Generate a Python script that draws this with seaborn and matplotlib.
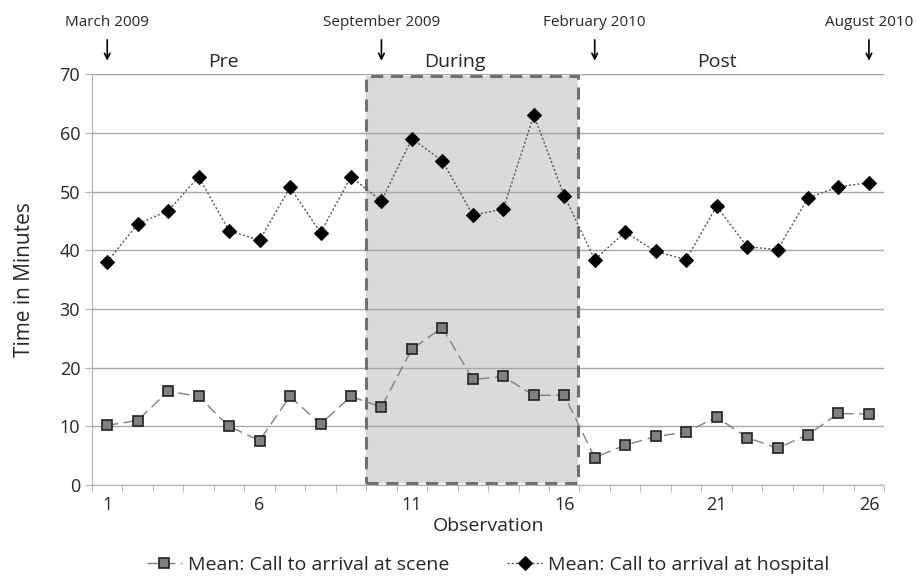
import numpy as np
import pandas as pd
import matplotlib
matplotlib.use('Agg')
import matplotlib.pyplot as plt
import seaborn as sns
from matplotlib.patches import Rectangle

# --- Data ---
observation = list(range(1, 27))
scene = [10.2, 11.0, 16.0, 15.1, 10.0, 7.6, 15.1, 10.4, 15.1, 13.3,
         23.2, 26.8, 18.0, 18.5, 15.3, 15.3, 4.7, 6.8, 8.3, 9.0,
         11.6, 8.1, 6.3, 8.6, 12.2, 12.1]
hospital = [38.0, 44.5, 46.7, 52.5, 43.3, 41.7, 50.7, 43.0, 52.5, 48.4,
            59.0, 55.2, 46.0, 47.0, 63.0, 49.3, 38.4, 43.1, 39.8, 38.4,
            47.5, 40.6, 40.1, 48.9, 50.8, 51.5]
date_labels = ['March 2009', 'September 2009', 'February 2010', 'August 2010']
date_obs = [1, 10, 17, 26]
phase_labels = ['Pre', 'During', 'Post']
phase_obs = [4.8, 12.4, 21.0]
during_start, during_end = 9.5, 16.45

df = pd.DataFrame({'Observation': observation, 'scene': scene, 'hospital': hospital})

# --- Style ---
sns.set_style('white')
plt.rcParams['font.family'] = ['Open Sans', 'DejaVu Sans']

fig = plt.figure(figsize=(9.19, 5.81), dpi=100)
ax = fig.add_axes([0.1001, 0.165, 0.862, 0.7075])

# shaded "During" window (grid stays visible through it)
ax.add_patch(Rectangle((during_start, 0.3), during_end - during_start, 69.4,
                       facecolor='#d9d9d9', edgecolor='none', zorder=0.2))
ax.add_patch(Rectangle((during_start, 0.3), during_end - during_start, 69.4,
                       facecolor='none', edgecolor='#707070', lw=2.2,
                       ls=(0, (4, 2.5)), zorder=2))

sns.lineplot(data=df, x='Observation', y='scene', ax=ax, color='#808080',
             lw=1, linestyle=(0, (8, 4)), marker='s', markersize=7,
             markerfacecolor='#808080', markeredgecolor='#222222',
             markeredgewidth=1.2, label='Mean: Call to arrival at scene', zorder=3)
sns.lineplot(data=df, x='Observation', y='hospital', ax=ax, color='#555555',
             lw=1, linestyle=(0, (1.5, 1.5)), marker='D', markersize=7.5,
             markerfacecolor='black', markeredgecolor='black',
             label='Mean: Call to arrival at hospital', zorder=3)

ax.set_xlim(0.5, 26.5)
ax.set_ylim(0, 70)
ax.set_yticks(range(0, 71, 10))
ax.set_xticks([1, 6, 11, 16, 21, 26])
ax.set_xticks(np.arange(0.5, 26.6, 1), minor=True)
ax.tick_params(axis='x', which='minor', length=5, color='#b0b0b0', direction='out', bottom=True)
ax.tick_params(axis='x', which='major', length=0, labelsize=13, pad=8)
ax.tick_params(axis='y', length=5, color='#b0b0b0', labelsize=13, direction='out', left=True)
ax.yaxis.grid(True, color='#a6a6a6', lw=1, zorder=0.5)
ax.set_axisbelow(True)
for side in ['top', 'right']:
    ax.spines[side].set_visible(False)
for side in ['left', 'bottom']:
    ax.spines[side].set_color('#b0b0b0')
ax.set_xlabel('Observation', fontsize=14, labelpad=2)
ax.set_ylabel('Time in Minutes', fontsize=15, labelpad=18)

# date annotations with arrows
for lab, xo in zip(date_labels, date_obs):
    ax.annotate('', xy=(xo, 71.8), xytext=(xo, 76.3),
                arrowprops=dict(arrowstyle='->', color='black', lw=1.2), annotation_clip=False)
    ax.text(xo, 77.5, lab, ha='center', va='bottom', fontsize=11)
for lab, xo in zip(phase_labels, phase_obs):
    ax.text(xo, 70.6, lab, ha='center', va='bottom', fontsize=14)

leg = ax.legend(loc='upper center', bbox_to_anchor=(0.5, -0.13), ncol=2, frameon=False,
                fontsize=14, handlelength=1.8, columnspacing=3, handletextpad=0.3)

fig.savefig('out.png', dpi=100)
